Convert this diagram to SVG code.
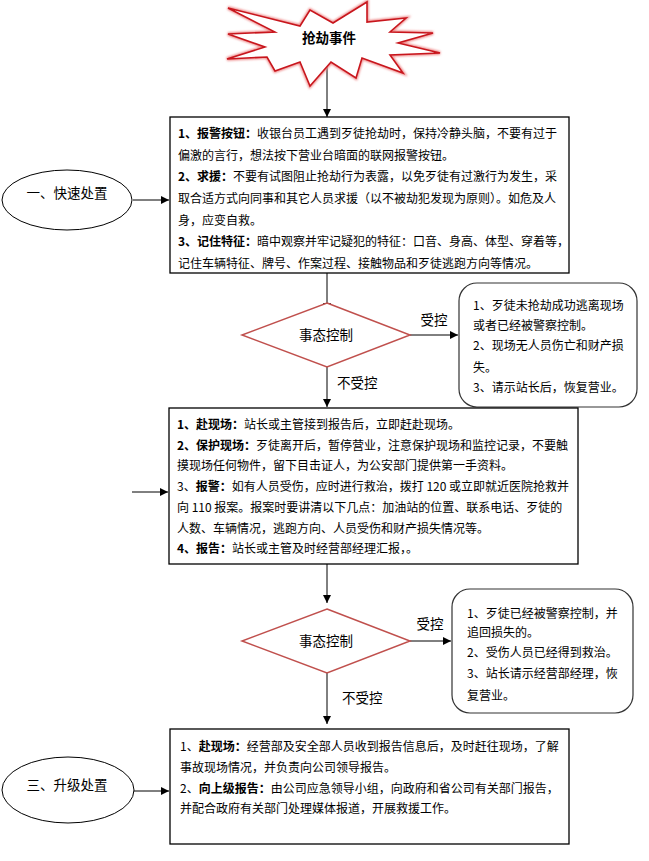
<svg xmlns="http://www.w3.org/2000/svg" width="649" height="861" viewBox="0 0 649 861">
<style>
  text { font-family: "Noto Sans CJK SC", "Noto Sans", sans-serif; fill: #000; }
  .t { font-size: 12px; }
  .b { font-weight: bold; }
  .lbl { font-size: 13.5px; }
  .box { fill: #fff; stroke: #000; stroke-width: 1.3; }
  .rbox { fill: #fff; stroke: #333; stroke-width: 1.2; }
  .dia { fill: #fff; stroke: #c0504d; stroke-width: 1.5; }
  .ell { fill: #fff; stroke: #000; stroke-width: 1; }
  .con { stroke: #000; stroke-width: 1; fill: none; marker-end: url(#ah); }
</style>
<defs>
  <marker id="ah" viewBox="0 0 10 10" refX="10" refY="5" markerWidth="8" markerHeight="8" markerUnits="userSpaceOnUse" orient="auto">
    <path d="M0,0 L10,5 L0,10 z" fill="#000"/>
  </marker>
  <filter id="glow" x="-10%" y="-10%" width="120%" height="120%">
    <feGaussianBlur stdDeviation="1.2"/>
  </filter>
</defs>
<rect width="649" height="861" fill="#fff"/>

<g id="connectors">
  <line class="con" x1="327" y1="62" x2="327" y2="117"/>
  <line class="con" x1="133" y1="200" x2="169" y2="200"/>
  <line class="con" x1="327" y1="273" x2="327" y2="311"/>
  <line class="con" x1="410" y1="335" x2="458" y2="335"/>
  <line class="con" x1="327" y1="367" x2="327" y2="407"/>
  <line class="con" x1="132" y1="492" x2="168" y2="492"/>
  <line class="con" x1="327" y1="564" x2="327" y2="603"/>
  <line class="con" x1="410" y1="641" x2="451" y2="641"/>
  <line class="con" x1="327" y1="673" x2="327" y2="724"/>
  <line class="con" x1="134" y1="791" x2="169" y2="791"/>
</g>

<g id="start">
  <polygon points="228,8 300,26 310,10 333,23 367,2 367,22 406,18 390,32 433,33 398,43 440,53 390,55 403,73 362,58 356,78 331,62 310,86 300,62 275,71 267,57 227,59 265,47 228,34 275,32" fill="none" stroke="#e88" stroke-width="3.5" filter="url(#glow)"/>
  <polygon points="228,8 300,26 310,10 333,23 367,2 367,22 406,18 390,32 433,33 398,43 440,53 390,55 403,73 362,58 356,78 331,62 310,86 300,62 275,71 267,57 227,59 265,47 228,34 275,32" fill="#fff" stroke="#c8161d" stroke-width="1.6"/>
  <text x="329" y="43" font-size="13.5" font-weight="bold" text-anchor="middle">抢劫事件</text>
</g>

<g id="ellipse1">
  <ellipse class="ell" cx="67" cy="200" rx="65" ry="30"/>
  <text class="lbl" x="67" y="198" text-anchor="middle">一、快速处置</text>
</g>

<g id="box1">
  <rect class="box" x="170" y="117" width="399" height="156"/>
  <text class="t" x="178" y="137.5"><tspan class="b">1、报警按钮：</tspan>收银台员工遇到歹徒抢劫时，保持冷静头脑，不要有过于</text>
  <text class="t" x="178" y="159.5">偏激的言行，想法按下营业台暗面的联网报警按钮。</text>
  <text class="t" x="178" y="181"><tspan class="b">2、求援：</tspan>不要有试图阻止抢劫行为表露，以免歹徒有过激行为发生，采</text>
  <text class="t" x="178" y="202.5">取合适方式向同事和其它人员求援（以不被劫犯发现为原则）。如危及人</text>
  <text class="t" x="178" y="224.5">身，应变自救。</text>
  <text class="t" x="178" y="246"><tspan class="b">3、记住特征：</tspan>暗中观察并牢记疑犯的特征：口音、身高、体型、穿着等，</text>
  <text class="t" x="178" y="267.5">记住车辆特征、牌号、作案过程、接触物品和歹徒逃跑方向等情况。</text>
</g>

<g id="decision1">
  <polygon class="dia" points="327,303 410,335 327,367 242,335"/>
  <text class="lbl" x="326" y="340" text-anchor="middle">事态控制</text>
  <text class="lbl" x="434" y="325" text-anchor="middle">受控</text>
  <text class="lbl" x="337" y="388">不受控</text>
</g>

<g id="result1">
  <rect class="rbox" x="459" y="283" width="178" height="124" rx="18" ry="18"/>
  <text class="t" x="473" y="309.5">1、歹徒未抢劫成功逃离现场</text>
  <text class="t" x="473" y="329.5">或者已经被警察控制。</text>
  <text class="t" x="473" y="349.5">2、现场无人员伤亡和财产损</text>
  <text class="t" x="473" y="371.5">失。</text>
  <text class="t" x="473" y="391.5">3、请示站长后，恢复营业。</text>
</g>

<g id="box2">
  <rect class="box" x="169" y="408" width="409" height="156"/>
  <text class="t" x="177" y="428.5"><tspan class="b">1、赴现场：</tspan>站长或主管接到报告后，立即赶赴现场。</text>
  <text class="t" x="177" y="449.5"><tspan class="b">2、保护现场：</tspan>歹徒离开后，暂停营业，注意保护现场和监控记录，不要触</text>
  <text class="t" x="177" y="469.5">摸现场任何物件，留下目击证人，为公安部门提供第一手资料。</text>
  <text class="t" x="177" y="490.5">3、<tspan class="b">报警：</tspan>如有人员受伤，应时进行救治，拨打 120 或立即就近医院抢救并</text>
  <text class="t" x="177" y="511.5">向 110 报案。报案时要讲清以下几点：加油站的位置、联系电话、歹徒的</text>
  <text class="t" x="177" y="532.5">人数、车辆情况，逃跑方向、人员受伤和财产损失情况等。</text>
  <text class="t" x="177" y="552.5"><tspan class="b">4、报告：</tspan>站长或主管及时经营部经理汇报，。</text>
</g>

<g id="decision2">
  <polygon class="dia" points="327,609 410,641 327,673 242,641"/>
  <text class="lbl" x="326" y="646" text-anchor="middle">事态控制</text>
  <text class="lbl" x="430" y="629" text-anchor="middle">受控</text>
  <text class="lbl" x="342" y="703">不受控</text>
</g>

<g id="result2">
  <rect class="rbox" x="452" y="589" width="181" height="124" rx="18" ry="18"/>
  <text class="t" x="467" y="617.5">1、歹徒已经被警察控制，并</text>
  <text class="t" x="467" y="636.5">追回损失的。</text>
  <text class="t" x="467" y="656.5">2、受伤人员已经得到救治。</text>
  <text class="t" x="467" y="677.5">3、站长请示经营部经理，恢</text>
  <text class="t" x="467" y="699.5">复营业。</text>
</g>

<g id="ellipse3">
  <ellipse class="ell" cx="68" cy="790" rx="66" ry="33"/>
  <text class="lbl" x="67" y="790" text-anchor="middle">三、升级处置</text>
</g>

<g id="box3">
  <rect class="box" x="170" y="729" width="399" height="115"/>
  <text class="t" x="180" y="750.5">1、<tspan class="b">赴现场：</tspan>经营部及安全部人员收到报告信息后，及时赶往现场，了解</text>
  <text class="t" x="180" y="771.5">事故现场情况，并负责向公司领导报告。</text>
  <text class="t" x="180" y="792.5">2、<tspan class="b">向上级报告：</tspan>由公司应急领导小组，向政府和省公司有关部门报告，</text>
  <text class="t" x="180" y="812.5">并配合政府有关部门处理媒体报道，开展救援工作。</text>
</g>
</svg>
